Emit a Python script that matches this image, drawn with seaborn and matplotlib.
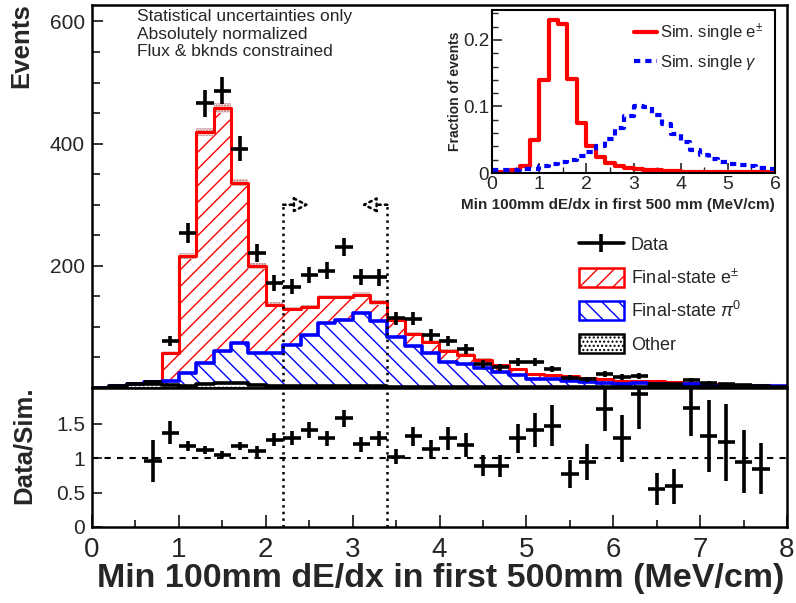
import numpy as np
import pandas as pd
import matplotlib
matplotlib.use("Agg")
import matplotlib.pyplot as plt
import seaborn as sns
from matplotlib.patches import Patch
from matplotlib.lines import Line2D

# ---------------- data ----------------
bin_edges = np.round(np.arange(0.0, 8.0001, 0.2), 2)
bin_centers = np.round(bin_edges[:-1] + 0.1, 2)

other = np.array([0.5, 4, 6, 7, 5, 3, 6, 9, 9, 5, 3, 3, 3, 3, 3, 3, 3, 2, 2, 2,
                  2, 2, 2, 2, 2, 2, 2, 2, 2, 2, 2, 2, 2, 2, 2, 1.5, 1.5, 1.5, 1, 1])
pi0 = np.array([0, 0, 0.5, 3, 6, 21, 35, 52, 64, 53, 54, 67, 84, 104, 108, 120, 107, 82, 66, 56,
                41, 37, 30, 24, 19, 13, 12, 10, 8, 6, 5, 6, 5, 3, 5, 2.5, 2, 1.5, 2, 1.5])
electron = np.array([0, 1, 1.5, 1, 47, 192, 378, 398, 263, 142, 79, 59, 46, 42, 38, 30, 30, 27, 20, 18,
                     18, 15, 14, 12, 10, 8, 7, 7, 7, 6, 5, 3, 4, 4.5, 0.5, 2, 1.5, 2, 2, 1.5])
mc_err = np.array([0.3, 1, 1, 1.2, 2.5, 5, 7, 8, 6, 5, 4, 3.5, 3.5, 4, 4, 4, 4, 3.5, 3, 3,
                   2.5, 2.5, 2.5, 2, 2, 2, 2, 2, 1.5, 1.5, 1.5, 1.5, 1.5, 1.5, 1.5, 1, 1, 1, 1, 1])

nan = np.nan
data_counts = np.array([nan, nan, nan, 10, 77, 254, 466, 487, 392, 221, 172, 166, 185, 192, 231, 182, 181,
                        114, 113, 87, 77, 64, 39, 34, 43, 42, 31, 17, 14, 23, 18, 20, 6, 6, 13, 8, 6, 5, 4, nan])
ratio = np.array([nan, nan, nan, 0.96, 1.37, 1.18, 1.12, 1.05, 1.18, 1.10, 1.27, 1.29, 1.41, 1.29, 1.58,
                  1.20, 1.29, 1.02, 1.32, 1.13, 1.29, 1.19, 0.89, 0.89, 1.29, 1.41, 1.47, 0.77, 0.95,
                  1.72, 1.29, 1.94, 0.55, 0.59, 1.73, 1.32, 1.23, 0.95, 0.85, nan])
ratio_err = np.array([nan, nan, nan, 0.31, 0.17, 0.07, 0.06, 0.05, 0.06, 0.08, 0.10, 0.10, 0.12, 0.11, 0.12,
                      0.11, 0.11, 0.11, 0.14, 0.13, 0.17, 0.17, 0.15, 0.16, 0.21, 0.25, 0.30, 0.20, 0.26,
                      0.33, 0.34, 0.52, 0.23, 0.25, 0.41, 0.52, 0.56, 0.46, 0.37, nan])

cut_lo, cut_hi = 2.2, 3.4
arrow_y = 300
arrow_len = 0.3

inset_edges = np.round(np.arange(0.0, 6.0001, 0.2), 2)
inset_centers = np.round(inset_edges[:-1] + 0.1, 2)
single_e = np.array([0.002, 0.002, 0.004, 0.011, 0.049, 0.140, 0.230, 0.224, 0.141, 0.075, 0.040, 0.024,
                     0.015, 0.011, 0.008, 0.006, 0.005, 0.004, 0.003, 0.0025, 0.002, 0.002, 0.0015,
                     0.0015, 0.001, 0.001, 0.001, 0.001, 0.001, 0.001])
single_gamma = np.array([0.004, 0.004, 0.005, 0.006, 0.006, 0.010, 0.013, 0.017, 0.019, 0.025, 0.031, 0.040,
                         0.051, 0.068, 0.085, 0.100, 0.099, 0.087, 0.074, 0.058, 0.046, 0.035, 0.027,
                         0.021, 0.016, 0.014, 0.012, 0.010, 0.008, 0.006])

notes = ["Statistical uncertainties only", "Absolutely normalized", "Flux & bknds constrained"]
upper_yticks = [200, 400, 600]
ratio_yticks = [0, 0.5, 1, 1.5]
ratio_yticklabels = ["0", "0.5", "1", "1.5"]
inset_yticks = [0, 0.1, 0.2]
inset_yticklabels = ["0", "0.1", "0.2"]

# ---------------- style ----------------
sns.set_style("white")
plt.rcParams["font.family"] = ["Liberation Sans", "DejaVu Sans"]
plt.rcParams["mathtext.fontset"] = "custom"
plt.rcParams["mathtext.rm"] = "Liberation Sans"
plt.rcParams["mathtext.it"] = "Liberation Sans:italic"
plt.rcParams["mathtext.bf"] = "Liberation Sans:bold"
plt.rcParams["hatch.linewidth"] = 1.0

W, H = 796, 603
fig = plt.figure(figsize=(W / 100, H / 100), dpi=100)

def fx(px):
    return px / W

def fy(py):
    return 1 - py / H

L, R = 92, 787
ax = fig.add_axes([fx(L), fy(388), fx(R) - fx(L), fy(5) - fy(388)])
ax2 = fig.add_axes([fx(L), fy(527), fx(R) - fx(L), fy(388) - fy(527)], sharex=ax)

def st(v):
    return np.append(v, v[-1])

c1 = other
c2 = other + pi0
c3 = c2 + electron

main_df = pd.DataFrame({"x": bin_centers, "total": c3, "pi0top": c2, "other": c1})
inset_df = pd.DataFrame({"x": inset_centers, "e": single_e, "g": single_gamma})
main_bins = list(bin_edges)
inset_bins = list(inset_edges)

ax.fill_between(bin_edges, 0, st(c3), step="post", facecolor="white", edgecolor="red",
                hatch="//", linewidth=0, zorder=1)
ax.fill_between(bin_edges, st(c3 - mc_err), st(c3 + mc_err), step="post", facecolor="#f4dede",
                edgecolor="#b07070", hatch="......", linewidth=0, zorder=1.2)
ax.fill_between(bin_edges, 0, st(c2), step="post", facecolor="white", edgecolor="blue",
                hatch="\\\\", linewidth=0, zorder=1.4)
ax.fill_between(bin_edges, 0, st(c1), step="post", facecolor="white", edgecolor="0.35",
                hatch="....", linewidth=0, zorder=1.6)

sns.histplot(data=main_df, x="x", weights="total", bins=main_bins, element="step", fill=False,
             color="red", linewidth=2.2, ax=ax, zorder=2)
sns.histplot(data=main_df, x="x", weights="pi0top", bins=main_bins, element="step", fill=False,
             color="blue", linewidth=2.6, ax=ax, zorder=2.1)
sns.histplot(data=main_df, x="x", weights="other", bins=main_bins, element="step", fill=False,
             color="black", linewidth=2.6, ax=ax, zorder=2.2)

ax.errorbar(bin_centers, data_counts, xerr=0.1, yerr=np.sqrt(data_counts), fmt="none",
            ecolor="black", elinewidth=2.6, capsize=0, zorder=4)

# cut lines and arrows
ax.vlines([cut_lo, cut_hi], 0, arrow_y, colors="black", linestyles=":", linewidth=1.8, zorder=3)
ax.annotate("", xy=(cut_lo + arrow_len, arrow_y), xytext=(cut_lo, arrow_y),
            arrowprops=dict(arrowstyle="-|>,head_length=0.9,head_width=0.45", linestyle=":",
                            lw=1.8, color="black", fc="white", shrinkA=0, shrinkB=0), zorder=3)
ax.annotate("", xy=(cut_hi - arrow_len, arrow_y), xytext=(cut_hi, arrow_y),
            arrowprops=dict(arrowstyle="-|>,head_length=0.9,head_width=0.45", linestyle=":",
                            lw=1.8, color="black", fc="white", shrinkA=0, shrinkB=0), zorder=3)

ax.set_xlim(0, 8)
ax.set_ylim(0, 627)
ax.set_yticks(upper_yticks)
ax.set_yticks(np.arange(0, 627, 50), minor=True)
ax.set_xlabel("")
ax.set_ylabel("")
ax.tick_params(axis="x", which="both", bottom=False, labelbottom=False)
ax.tick_params(axis="y", which="major", direction="in", length=8, width=1.3, labelsize=15, pad=5, left=True)
ax.tick_params(axis="y", which="minor", direction="in", length=6, width=1.3, left=True)
for s in ax.spines.values():
    s.set_linewidth(1.8)
    s.set_color("black")

# legend
handles = [Line2D([0], [0], color="black", lw=2.6, marker="|", markersize=13, markeredgewidth=2.6),
           Patch(facecolor="white", edgecolor="red", hatch="//", linewidth=1.8),
           Patch(facecolor="white", edgecolor="blue", hatch="\\\\", linewidth=1.8),
           Patch(facecolor="white", edgecolor="black", hatch="....", linewidth=1.8)]
labels = ["Data", "Final-state e$^{\\pm}$", "Final-state $\\pi^{0}$", "Other"]
leg = ax.legend(handles, labels, loc="upper left", bbox_to_anchor=(0.70, 0.40), frameon=False,
                fontsize=13, handlelength=2.5, handleheight=1.25, handletextpad=0.4,
                labelspacing=0.74, borderpad=0, borderaxespad=0)

for i, t in enumerate(notes):
    fig.text(fx(137), fy(17 + 17 * i), t, fontsize=12.5, ha="left", va="center")

# ratio panel
ax2.errorbar(bin_centers, ratio, xerr=0.1, yerr=ratio_err, fmt="none", ecolor="black",
             elinewidth=2.6, capsize=0, zorder=4)
ax2.axhline(1, color="black", linestyle=(0, (3, 3)), linewidth=1.5, zorder=2)
ax2.axvline(cut_lo, color="black", linestyle=":", linewidth=1.8, zorder=2)
ax2.axvline(cut_hi, color="black", linestyle=":", linewidth=1.8, zorder=2)
ax2.set_ylim(0, 2.02)
ax2.set_xlim(0, 8)
ax2.set_yticks(ratio_yticks)
ax2.set_yticklabels(ratio_yticklabels)
ax2.set_xticks(range(0, 9))
ax2.set_xticks(np.arange(0, 8.01, 0.5), minor=True)
ax2.tick_params(axis="x", which="major", direction="in", length=9, width=1.3, labelsize=20, pad=7, bottom=True)
ax2.tick_params(axis="x", which="minor", direction="in", length=5, width=1.3, bottom=True)
ax2.tick_params(axis="y", which="major", direction="in", length=7, width=1.3, labelsize=15, pad=5, left=True)
for s in ax2.spines.values():
    s.set_linewidth(1.8)
    s.set_color("black")
ax2.set_xlabel("")
ax2.set_ylabel("")

fig.text(fx(441), fy(578), "Min 100mm dE/dx in first 500mm (MeV/cm)", fontsize=24.5,
         fontweight="bold", ha="center", va="center")
fig.text(fx(21), fy(3), "Events", fontsize=18.5, fontweight="bold", rotation=90, ha="center", va="top")
fig.text(fx(24), fy(445), "Data/Sim.", fontsize=18.5, fontweight="bold", rotation=90, ha="center", va="center")

# inset
axin = fig.add_axes([fx(492), fy(173), fx(775) - fx(492), fy(10) - fy(173)])
axin.set_zorder(6)
sns.histplot(data=inset_df, x="x", weights="e", bins=inset_bins, element="step", fill=False,
             color="red", linewidth=3, ax=axin)
sns.histplot(data=inset_df, x="x", weights="g", bins=inset_bins, element="step", fill=False,
             color="blue", linewidth=3, linestyle=(0, (1.5, 1.2)), ax=axin)
axin.set_xlim(0, 6)
axin.set_ylim(0, 0.245)
axin.set_xticks(range(0, 7))
axin.set_xticks(np.arange(0, 6.01, 0.5), minor=True)
axin.set_yticks(inset_yticks)
axin.set_yticklabels(inset_yticklabels)
axin.set_yticks(np.arange(0, 0.245, 0.02), minor=True)
axin.tick_params(axis="y", which="major", direction="in", length=7, width=1.2, labelsize=13.5,
                 pad=2, left=True)
axin.tick_params(axis="x", which="major", direction="in", length=7, width=1.2, labelsize=14,
                 pad=2, bottom=True)
axin.tick_params(axis="both", which="minor", direction="in", length=4, width=1.0, bottom=True, left=True)
for s in axin.spines.values():
    s.set_linewidth(1.5)
    s.set_color("black")
axin.set_xlabel("Min 100mm dE/dx in first 500 mm (MeV/cm)", fontsize=11, fontweight="bold")
axin.xaxis.set_label_coords(0.445, -0.155)
axin.set_ylabel("Fraction of events", fontsize=10, fontweight="bold")
axin.yaxis.set_label_coords(-0.105, 0.5)
in_handles = [Line2D([0], [0], color="red", lw=3),
              Line2D([0], [0], color="blue", lw=3, linestyle=(0, (1.5, 1.2)))]
axin.legend(in_handles, ["Sim. single e$^{\\pm}$", "Sim. single $\\gamma$"], loc="upper left",
            bbox_to_anchor=(0.50, 0.93), frameon=False, fontsize=12, handlelength=1.4,
            handletextpad=0.2, labelspacing=0.57, borderpad=0, borderaxespad=0)

fig.savefig("out.png", dpi=100)
